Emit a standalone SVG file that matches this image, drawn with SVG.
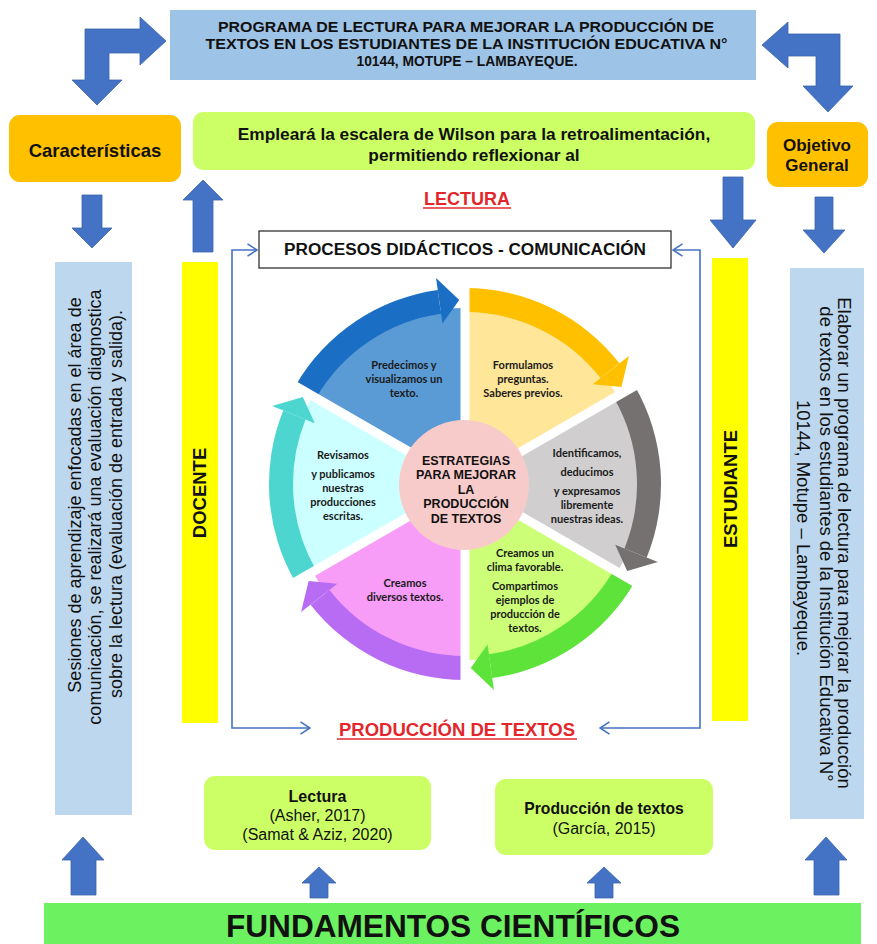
<svg xmlns="http://www.w3.org/2000/svg" width="877" height="944" viewBox="0 0 877 944">
<defs>
<style>
.f{font-family:"Liberation Sans",Arial,sans-serif;fill:#111}
.b{font-weight:bold}
.m{text-anchor:middle}
.ar{fill:#4472c4;stroke:#3b64ad;stroke-width:0.8}
.w{font-family:Lato,"Open Sans",sans-serif;font-weight:bold;font-size:11px;fill:#1a1a1a;text-anchor:middle}
.gap{stroke:#fff;stroke-width:9}
.red{fill:#e3262b}
.ul{stroke:#e3262b;stroke-width:1.5}
.con{fill:none;stroke:#4472c4;stroke-width:1.6}
.lime{fill:#ccff66}
.org{fill:#ffc000}
.lb{fill:#bdd7ee}
.yel{fill:#ffff00}
</style>
<marker id="ah" viewBox="0 0 11 14" refX="10" refY="7" markerWidth="11" markerHeight="14" markerUnits="userSpaceOnUse" orient="auto-start-reverse">
<path d="M0.5,0.8 L10,7 L0.5,13.2" fill="none" stroke="#4472c4" stroke-width="1.6"/>
</marker>
</defs>
<rect x="0" y="0" width="877" height="944" fill="#fff"/>

<g id="titulo">
<rect x="170" y="10" width="586" height="70" fill="#9dc3e6"/>
<text class="f b m" font-size="15.5" x="466" y="32" textLength="496" lengthAdjust="spacingAndGlyphs">PROGRAMA DE LECTURA PARA MEJORAR LA PRODUCCIÓN DE</text>
<text class="f b m" font-size="15.5" x="466.5" y="49" textLength="522" lengthAdjust="spacingAndGlyphs">TEXTOS EN LOS ESTUDIANTES DE LA INSTITUCIÓN EDUCATIVA N°</text>
<text class="f b m" font-size="15.5" x="467" y="66" textLength="221" lengthAdjust="spacingAndGlyphs">10144, MOTUPE – LAMBAYEQUE.</text>
</g>

<g id="caracteristicas">
<rect class="org" x="9" y="115" width="172" height="67" rx="11"/>
<text class="f b m" font-size="18.5" x="95" y="157">Características</text>
</g>

<g id="wilson">
<rect class="lime" x="193" y="112" width="562" height="58" rx="10"/>
<text class="f b m" font-size="17.3" x="474" y="140">Empleará la escalera de Wilson para la retroalimentación,</text>
<text class="f b m" font-size="17.3" x="474" y="161">permitiendo reflexionar al</text>
</g>

<g id="objetivo">
<rect class="org" x="767" y="122" width="101" height="65" rx="11"/>
<text class="f b m" font-size="17" x="817" y="151">Objetivo</text>
<text class="f b m" font-size="17" x="817" y="171">General</text>
</g>

<g id="sesiones">
<rect class="lb" x="55" y="262" width="77" height="553"/>
<text class="f" font-size="18" text-anchor="middle" transform="translate(80.5,495) rotate(-90)">Sesiones de aprendizaje enfocadas en el área de</text>
<text class="f" font-size="18" text-anchor="middle" transform="translate(101,507) rotate(-90)">comunicación, se realizará una evaluación diagnostica</text>
<text class="f" font-size="18" text-anchor="middle" transform="translate(121.5,504) rotate(-90)">sobre la lectura (evaluación de entrada y salida).</text>
</g>

<g id="docente">
<rect class="yel" x="182" y="262" width="36" height="461"/>
<text class="f b m" font-size="18.5" transform="translate(205.6,493) rotate(-90)">DOCENTE</text>
</g>

<g id="estudiante">
<rect class="yel" x="712" y="258" width="36" height="463"/>
<text class="f b m" font-size="18.5" transform="translate(736.6,489) rotate(-90)">ESTUDIANTE</text>
</g>

<g id="objetivo-texto">
<rect class="lb" x="790" y="268" width="74" height="551"/>
<text class="f" font-size="18.5" text-anchor="middle" transform="translate(838,543) rotate(90)">Elaborar un programa de lectura para mejorar la producción</text>
<text class="f" font-size="18.5" text-anchor="middle" transform="translate(819.5,544) rotate(90)">de textos en los estudiantes de la Institución Educativa N°</text>
<text class="f" font-size="18.5" text-anchor="middle" transform="translate(797,528) rotate(90)">10144, Motupe – Lambayeque.</text>
</g>

<g id="lectura-titulo">
<text class="f b m red" font-size="18" x="467" y="204.5">LECTURA</text>
<line class="ul" x1="423" y1="208" x2="511" y2="208"/>
</g>

<g id="procesos">
<rect x="259" y="231" width="412" height="37" fill="#fff" stroke="#222" stroke-width="1.2"/>
<text class="f b m" font-size="17.2" x="465" y="255">PROCESOS DIDÁCTICOS - COMUNICACIÓN</text>
</g>

<g id="produccion-titulo">
<text class="f b m red" font-size="18.5" x="457" y="735.5">PRODUCCIÓN DE TEXTOS</text>
<line class="ul" x1="337" y1="739" x2="577" y2="739"/>
</g>

<g id="rueda">
<path d="M465,484 L312.58,396 A176,176 0 0 1 465,308 Z" fill="#5b9bd5"/>
<path d="M465,484 L465,308 A176,176 0 0 1 617.42,396 Z" fill="#ffe699"/>
<path d="M465,484 L617.42,396 A176,176 0 0 1 617.42,572 Z" fill="#d0cece"/>
<path d="M465,484 L617.42,572 A176,176 0 0 1 465,660 Z" fill="#ccff77"/>
<path d="M465,484 L465,660 A176,176 0 0 1 312.58,572 Z" fill="#f79cf7"/>
<path d="M465,484 L312.58,572 A176,176 0 0 1 312.58,396 Z" fill="#ccffff"/>

<path d="M295.26,386 A196,196 0 0 1 437.72,289.91 L441.06,313.67 A172,172 0 0 0 316.05,398 Z" fill="#1a6fc4"/>
<path d="M465,288 A196,196 0 0 1 619.45,363.33 L600.54,378.11 A172,172 0 0 0 465,312 Z" fill="#ffc000"/>
<path d="M634.74,386 A196,196 0 0 1 646.73,557.42 L624.47,548.43 A172,172 0 0 0 613.95,398 Z" fill="#767171"/>
<path d="M634.74,582 A196,196 0 0 1 492.28,678.09 L488.94,654.33 A172,172 0 0 0 613.95,570 Z" fill="#5de33a"/>
<path d="M465,680 A196,196 0 0 1 310.55,604.67 L329.46,589.89 A172,172 0 0 0 465,656 Z" fill="#b86cf4"/>
<path d="M295.26,582 A196,196 0 0 1 283.27,410.58 L305.53,419.57 A172,172 0 0 0 316.05,570 Z" fill="#4dd6cf"/>

<g class="gap">
<line x1="465" y1="484" x2="465" y2="272"/>
<line x1="465" y1="484" x2="648.6" y2="378"/>
<line x1="465" y1="484" x2="648.6" y2="590"/>
<line x1="465" y1="484" x2="465" y2="696"/>
<line x1="465" y1="484" x2="281.4" y2="590"/>
<line x1="465" y1="484" x2="281.4" y2="378"/>
</g>

<polygon points="442.45,323.58 436.05,278.02 459.22,300.09" fill="#1a6fc4"/>
<polygon points="592.66,384.26 628.91,355.94 621.38,387.04" fill="#ffc000"/>
<polygon points="615.20,544.69 657.85,561.92 627.16,570.95" fill="#767171"/>
<polygon points="487.55,644.42 493.95,689.98 470.78,667.91" fill="#5de33a"/>
<polygon points="337.34,583.74 301.09,612.06 308.62,580.96" fill="#b86cf4"/>
<polygon points="314.80,423.31 272.15,406.08 302.84,397.05" fill="#4dd6cf"/>

<text class="w" x="404" y="369">Predecimos y</text>
<text class="w" x="404" y="383">visualizamos un</text>
<text class="w" x="404" y="397">texto.</text>

<text class="w" x="523" y="369">Formulamos</text>
<text class="w" x="523" y="383">preguntas.</text>
<text class="w" x="523" y="397">Saberes previos.</text>

<text class="w" x="587" y="457">Identificamos,</text>
<text class="w" x="587" y="476">deducimos</text>
<text class="w" x="587" y="495">y expresamos</text>
<text class="w" x="587" y="509">libremente</text>
<text class="w" x="587" y="523">nuestras ideas.</text>

<text class="w" x="525" y="557">Creamos un</text>
<text class="w" x="525" y="571">clima favorable.</text>
<text class="w" x="525" y="590">Compartimos</text>
<text class="w" x="525" y="604">ejemplos de</text>
<text class="w" x="525" y="618">producción de</text>
<text class="w" x="525" y="632">textos.</text>

<text class="w" x="405" y="587">Creamos</text>
<text class="w" x="405" y="601">diversos textos.</text>

<text class="w" x="343" y="459">Revisamos</text>
<text class="w" x="343" y="478">y publicamos</text>
<text class="w" x="343" y="492">nuestras</text>
<text class="w" x="343" y="506">producciones</text>
<text class="w" x="343" y="520">escritas.</text>
</g>

<g id="estrategias">
<circle cx="464" cy="485" r="65" fill="#f8cbcb"/>
<text class="f b m" font-size="12.5" x="466" y="464.5">ESTRATEGIAS</text>
<text class="f b m" font-size="12.5" x="466" y="479">PARA MEJORAR</text>
<text class="f b m" font-size="12.5" x="466" y="493.5">LA</text>
<text class="f b m" font-size="12.5" x="466" y="508">PRODUCCIÓN</text>
<text class="f b m" font-size="12.5" x="466" y="522.5">DE TEXTOS</text>
</g>

<g id="lectura-fund">
<rect class="lime" x="204" y="776" width="227" height="74" rx="11"/>
<text class="f b m" font-size="16" x="317.5" y="802">Lectura</text>
<text class="f m" font-size="16" x="317.5" y="821">(Asher, 2017)</text>
<text class="f m" font-size="16" x="317.5" y="840">(Samat &amp; Aziz, 2020)</text>
</g>

<g id="produccion-fund">
<rect class="lime" x="495" y="779" width="218" height="76" rx="11"/>
<text class="f b m" font-size="15.7" x="604" y="814">Producción de textos</text>
<text class="f m" font-size="16" x="604" y="834">(García, 2015)</text>
</g>

<g id="fundamentos">
<rect x="44" y="903" width="817" height="41" fill="#6cf260"/>
<text class="f b m" font-size="31" x="453" y="937" textLength="454" lengthAdjust="spacingAndGlyphs">FUNDAMENTOS CIENTÍFICOS</text>
</g>

<g id="conectores">
<polygon class="ar" points="85,29 140,29 140,17 166,41 140,65 140,53 109,53 109,80 122,80 97,105 72,80 85,80"/>
<polygon class="ar" points="840,34 788,34 788,22 762,45 788,68 788,56 816,56 816,86 803,86 828,112 853,86 840,86"/>
<polygon class="ar" points="82,195 102,195 102,228 112,228 92,248 72,228 82,228"/>
<polygon class="ar" points="193,252 213,252 213,200 223,200 203,180 183,200 193,200"/>
<polygon class="ar" points="723,177 743,177 743,220 756,220 733,248 710,220 723,220"/>
<polygon class="ar" points="815,197 833,197 833,230 845,230 824,253 803,230 815,230"/>
<polygon class="ar" points="71,895 96,895 96,860 104,860 83,837 62,860 71,860"/>
<polygon class="ar" points="310,898 328,898 328,883 336,883 319,867 302,883 310,883"/>
<polygon class="ar" points="595,898 613,898 613,883 621,883 604,867 587,883 595,883"/>
<polygon class="ar" points="814,895 839,895 839,860 847,860 826,837 805,860 814,860"/>
<path class="con" d="M257,250 H232 V728 H310" marker-start="url(#ah)" marker-end="url(#ah)"/>
<path class="con" d="M673,250 H700 V728 H600" marker-start="url(#ah)" marker-end="url(#ah)"/>
</g>
</svg>
